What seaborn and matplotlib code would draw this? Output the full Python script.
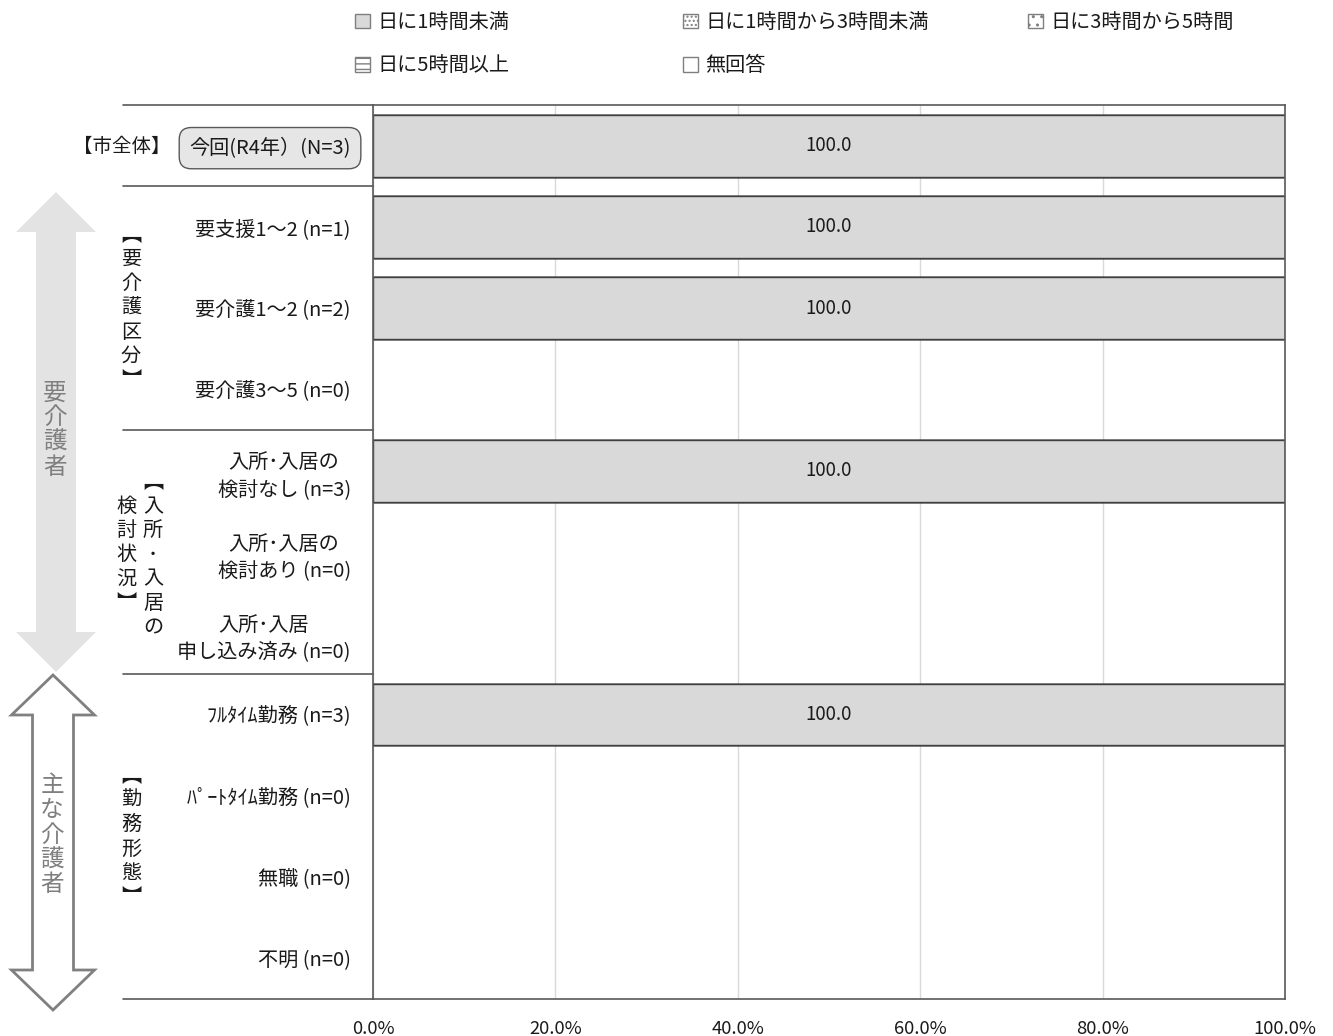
import numpy as np
import pandas as pd
import matplotlib
matplotlib.use("Agg")
import matplotlib.pyplot as plt
from matplotlib.patches import Patch, Polygon
import seaborn as sns

# data
categories = ["今回(R4年）(N=3)", "要支援1〜2 (n=1)", "要介護1〜2 (n=2)", "要介護3〜5 (n=0)",
              "入所･入居の\n検討なし (n=3)", "入所･入居の\n検討あり (n=0)", "入所･入居\n申し込み済み (n=0)",
              "ﾌﾙﾀｲﾑ勤務 (n=3)", "ﾊﾟｰﾄﾀｲﾑ勤務 (n=0)", "無職 (n=0)", "不明 (n=0)"]
series_names = ["日に1時間未満", "日に1時間から3時間未満", "日に3時間から5時間", "日に5時間以上", "無回答"]
lt1h = [100.0, 100.0, 100.0, 0, 100.0, 0, 0, 100.0, 0, 0, 0]
h1to3 = [0, 0, 0, 0, 0, 0, 0, 0, 0, 0, 0]
h3to5 = [0, 0, 0, 0, 0, 0, 0, 0, 0, 0, 0]
ge5h = [0, 0, 0, 0, 0, 0, 0, 0, 0, 0, 0]
no_answer = [0, 0, 0, 0, 0, 0, 0, 0, 0, 0, 0]
xticks = [0, 20, 40, 60, 80, 100]

sns.set_style("white")
plt.rcParams["font.family"] = ["Noto Sans CJK JP", "DejaVu Sans"]

W, H = 1333, 1036
fig = plt.figure(figsize=(W / 100, H / 100), dpi=100)
ax = fig.add_axes([373 / W, 1 - 999 / H, (1285 - 373) / W, (999 - 105) / H])

df = pd.DataFrame({"cat": categories, "s1": lt1h, "s2": h1to3, "s3": h3to5, "s4": ge5h, "s5": no_answer})
cols = ["s1", "s2", "s3", "s4", "s5"]
cum = df[cols].cumsum(axis=1)

styles = [dict(color="#d9d9d9", hatch=None),
          dict(color="white", hatch="...."),
          dict(color="white", hatch=".."),
          dict(color="white", hatch="---"),
          dict(color="white", hatch=None)]

ax.grid(axis="x", color="#d9d9d9", lw=1, zorder=0)
ax.set_axisbelow(True)

# stacked bars: draw cumulative totals from the outermost inward
for i in reversed(range(len(cols))):
    sns.barplot(x=cum[cols[i]], y=df["cat"], orient="h", color=styles[i]["color"],
                saturation=1, width=0.76, edgecolor="#404040", linewidth=1,
                hatch=styles[i]["hatch"], ax=ax, zorder=2)
for p in ax.patches:
    if p.get_width() == 0:
        p.set_linewidth(0)

# value labels
for j, row in df.iterrows():
    left = 0
    for c in cols:
        v = row[c]
        if v > 0:
            ax.text(left + v / 2, j, f"{v:.1f}", ha="center", va="center", fontsize=13.5, color="#1a1a1a", zorder=3)
        left += v

ax.set_xlim(0, 100)
ax.set_ylim(len(categories) - 0.5, -0.5)
ax.set_xticks(xticks)
ax.set_xticklabels([f"{t:.1f}%" for t in xticks], fontsize=13.3, color="#1a1a1a")
ax.set_xlabel("")
ax.set_ylabel("")
ax.tick_params(axis="x", length=0, pad=15)
ax.tick_params(axis="y", length=0, pad=16)
for lab in ax.get_yticklabels():
    lab.set_fontsize(14.5)
    lab.set_multialignment("center")
    lab.set_linespacing(1.4)
    lab.set_color("#1a1a1a")
first = ax.get_yticklabels()[0]
first.set_bbox(dict(boxstyle="round,pad=0.5,rounding_size=0.6", fc="#e6e6e6", ec="#595959", lw=1))

for s in ax.spines.values():
    s.set_color("#595959")
    s.set_linewidth(1.2)

# group separators extending into the label area
ytr = ax.get_yaxis_transform()
for yb in [-0.5, 0.5, 3.5, 6.5, len(categories) - 0.5]:
    ax.plot([-0.274, 0], [yb, yb], color="#595959", lw=1.2, transform=ytr, clip_on=False)

# legend, three separately placed columns
handles = [Patch(facecolor=st["color"], edgecolor="#7f7f7f", hatch=st["hatch"], lw=1) for st in styles]
col_pos = [(355, [0, 3]), (683, [1, 4]), (1028, [2])]
for xp, idx in col_pos:
    lg = fig.legend([handles[k] for k in idx], [series_names[k] for k in idx],
                    loc="upper left", bbox_to_anchor=(xp / W, 1 - 12 / H), frameon=False,
                    fontsize=14.5, handlelength=0.75, handleheight=0.75, handletextpad=0.35,
                    labelspacing=1.1, borderpad=0, borderaxespad=0)
    for t in lg.get_texts():
        t.set_color("#1a1a1a")


def fx(x):
    return x / W


def fy(y):
    return 1 - y / H


def double_arrow(xc, top, bot, shaft, head, hl, **kw):
    pts = [(xc, top), (xc + head, top + hl), (xc + shaft, top + hl), (xc + shaft, bot - hl),
           (xc + head, bot - hl), (xc, bot), (xc - head, bot - hl), (xc - shaft, bot - hl),
           (xc - shaft, top + hl), (xc - head, top + hl)]
    fig.add_artist(Polygon([(fx(a), fy(b)) for a, b in pts], closed=True, transform=fig.transFigure, **kw))


double_arrow(56, 192, 672, 20, 40, 40, facecolor="#e3e3e3", edgecolor="none")
double_arrow(53, 675, 1010, 20.5, 41.5, 40, facecolor="white", edgecolor="#808080", lw=2)


def vtext(s, x, y, ls, **kw):
    fig.text(fx(x), fy(y), "\n".join(s), ha="center", va="center", linespacing=ls, **kw)


vtext("要介護者", 55, 430, 1.1, fontsize=17, color="#7f7f7f")
vtext("主な介護者", 52, 835, 1.1, fontsize=17, color="#7f7f7f")
vtext("︻要介護区分︼", 131, 308, 1.2, fontsize=14.5, color="#1a1a1a")
vtext("︻入所･入居の", 153, 555, 1.2, fontsize=14.5, color="#1a1a1a")
vtext("検討状況︼", 126, 555, 1.2, fontsize=14.5, color="#1a1a1a")
vtext("︻勤務形態︼", 131, 837, 1.2, fontsize=14.5, color="#1a1a1a")
fig.text(fx(171), fy(146), "【市全体】", ha="right", va="center", fontsize=14, color="#1a1a1a")

fig.savefig("out.png", dpi=100)
